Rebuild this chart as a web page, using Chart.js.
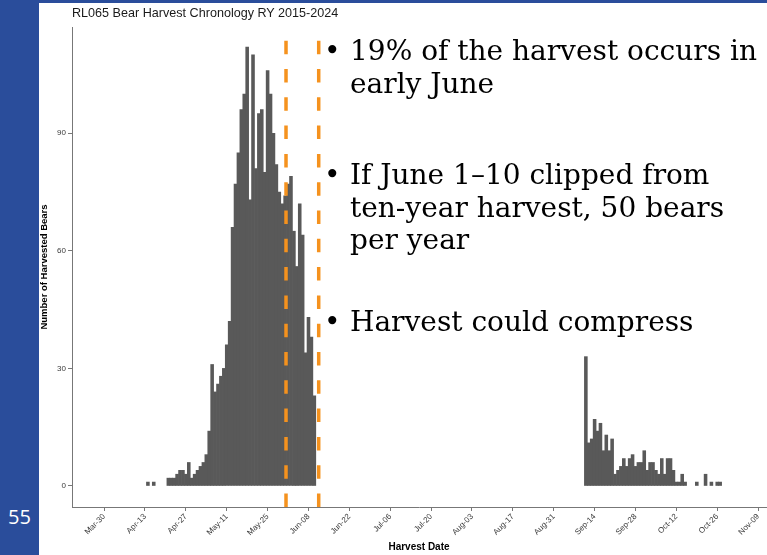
<!DOCTYPE html>
<html>
<head>
<meta charset="utf-8">
<script src="https://cdn.jsdelivr.net/npm/chart.js@4.4.0/dist/chart.umd.min.js"></script>
<style>
  html, body { margin: 0; padding: 0; width: 767px; height: 555px; overflow: hidden; background: #fff; }
  .side { position: absolute; left: 0; top: 0; width: 39px; height: 555px; background: #2a4d9b; }
  .topbar { position: absolute; left: 0; top: 0; width: 767px; height: 3px; background: #2a4d9b; }
  .pageno { position: absolute; left: 0; top: 503px; width: 39px; text-align: center; color: #fff; font: 20px "Open Sans", sans-serif; }
  #wrap { position: absolute; left: 39px; top: 0; width: 760px; height: 555px; }
  .ctitle { position: absolute; left: 72px; top: 6px; font: 12.6px "Liberation Sans", Arial, sans-serif; color: #1a1a1a; white-space: nowrap; }
  .bl { position: absolute; left: 350px; font: 28px "DejaVu Serif", serif; line-height: 32.5px; color: #000; white-space: nowrap; }
  .dot { position: absolute; left: 324px; font: 28px "DejaVu Serif", serif; line-height: 32.5px; color: #000; }
</style>
</head>
<body>
<div class="side"></div>
<div class="topbar"></div>
<div class="pageno">55</div>
<div id="wrap"><canvas id="chart" width="760" height="555"></canvas></div>
<div class="ctitle">RL065 Bear Harvest Chronology RY 2015-2024</div>

<div class="dot" style="top:35px">•</div>
<div class="bl" style="top:35px">19% of the harvest occurs in<br>early June</div>
<div class="dot" style="top:159px">•</div>
<div class="bl" style="top:159px">If June 1–10 clipped from<br>ten-year harvest, 50 bears<br>per year</div>
<div class="dot" style="top:306px">•</div>
<div class="bl" style="top:306px">Harvest could compress</div>

<script>
// days counted from Mar-30
const tickDays = [0, 14, 28, 42, 56, 70, 84, 98, 112, 126, 140, 154, 168, 182, 196, 210, 224];
const tickLabels = ['Mar-30', 'Apr-13', 'Apr-27', 'May-11', 'May-25', 'Jun-08', 'Jun-22', 'Jul-06',
  'Jul-20', 'Aug-03', 'Aug-17', 'Aug-31', 'Sep-14', 'Sep-28', 'Oct-12', 'Oct-26', 'Nov-09'];
const yTicks = [0, 30, 60, 90];

// stray early kills
const strayDays = [15, 17];
const strayCounts = [1, 1];

// spring season, one value per day starting at springFirstDay
const springFirstDay = 22;
const springCounts = [2, 2, 2, 3, 4, 4, 3, 6, 2, 3, 4, 5, 6, 8, 14, 31, 24, 26, 28, 30,
  36, 42, 66, 77, 85, 96, 100, 112, 73, 110, 81, 95, 96, 80, 106, 100, 90, 82, 75, 72,
  74, 77, 79, 65, 56, 72, 64, 34, 43, 38, 23];

// fall season
const fallFirstDay = 165;
const fallCounts = [33, 11, 12, 17, 14, 16, 9, 13, 9, 12, 3, 4, 5, 7, 5, 7, 8, 5, 6, 6,
  9, 4, 6, 6, 4, 3, 7, 3, 7, 7, 4, 1, 1, 3, 1, 0, 0, 0, 1, 0, 0, 3, 0, 1, 0, 1, 1];

// June 1-10 window
const dashDays = [62.3, 73.5];

const points = [];
strayDays.forEach((d, i) => points.push({ x: d, y: strayCounts[i] }));
springCounts.forEach((v, i) => points.push({ x: springFirstDay + i, y: v || null }));
fallCounts.forEach((v, i) => points.push({ x: fallFirstDay + i, y: v || null }));

const font = '"Liberation Sans", Arial, sans-serif';

// вертикальные пунктирные линии
const dashLines = {
  id: 'dashLines',
  afterDatasetsDraw(chart) {
    const { ctx, chartArea, scales } = chart;
    ctx.save();
    ctx.strokeStyle = '#F5921E';
    ctx.lineWidth = 3.5;
    ctx.setLineDash([13.5, 14.8]);
    dashDays.forEach(d => {
      const px = scales.x.getPixelForValue(d);
      ctx.beginPath();
      ctx.moveTo(px, chartArea.bottom);
      ctx.lineTo(px, chartArea.top);
      ctx.stroke();
    });
    ctx.restore();
  }
};

new Chart(document.getElementById('chart'), {
  type: 'bar',
  data: {
    datasets: [{
      data: points,
      backgroundColor: '#595959',
      borderWidth: 0,
      barPercentage: 1,
      categoryPercentage: 1
    }]
  },
  options: {
    responsive: false,
    animation: false,
    layout: { padding: { top: 27, right: 33, left: 0, bottom: 0 } },
    plugins: { legend: { display: false }, tooltip: { enabled: false } },
    scales: {
      x: {
        type: 'linear',
        min: -11,
        max: 226.7,
        offset: false,
        grid: { display: true, drawOnChartArea: false, offset: false, tickLength: 4, color: '#777' },
        border: { color: '#777', width: 1 },
        ticks: {
          autoSkip: false,
          minRotation: 45,
          maxRotation: 45,
          padding: 1,
          color: '#3a3a3a',
          font: { size: 8, family: font },
          callback: v => tickLabels[tickDays.indexOf(v)]
        },
        afterBuildTicks: s => { s.ticks = tickDays.map(v => ({ value: v })); },
        afterFit: s => { s.height = 48; },
        title: {
          display: true,
          text: 'Harvest Date',
          color: '#000',
          font: { size: 10, weight: 'bold', family: font },
          padding: { top: 0, bottom: 2 }
        }
      },
      y: {
        min: -5.36,
        max: 117.1,
        grid: { display: true, drawOnChartArea: false, tickLength: 4, color: '#777' },
        border: { color: '#777', width: 1 },
        ticks: { padding: 2, color: '#3a3a3a', font: { size: 8, family: font } },
        afterBuildTicks: s => { s.ticks = yTicks.map(v => ({ value: v })); },
        afterFit: s => { s.width = 33; },
        title: {
          display: true,
          text: 'Number of Harvested Bears',
          color: '#000',
          font: { size: 9.5, weight: 'bold', family: font },
          padding: 0
        }
      }
    }
  },
  plugins: [dashLines]
});
</script>
</body>
</html>
